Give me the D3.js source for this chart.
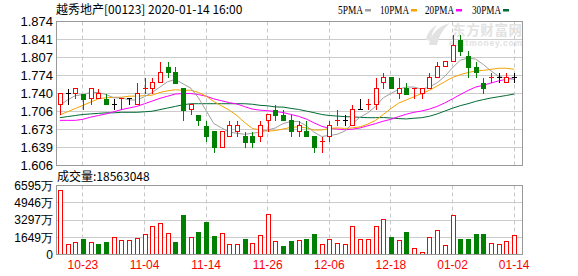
<!DOCTYPE html>
<html lang="zh">
<head>
<meta charset="utf-8">
<title>越秀地产 K线</title>
<script src="https://d3js.org/d3.v7.min.js"></script>
<style>
body { margin: 0; background: #fff; }
svg { display: block; font-family: "Noto Sans CJK SC", sans-serif; }
</style>
</head>
<body>
<svg id="kline" width="578" height="276"></svg>
<script>
// ---- data ----
let dates = ['10-18','10-21','10-22','10-23','10-24','10-25','10-28','10-29','10-30','10-31',
             '11-01','11-04','11-05','11-06','11-07','11-08','11-11','11-12','11-13','11-14',
             '11-15','11-18','11-19','11-20','11-21','11-22','11-25','11-26','11-27','11-28',
             '11-29','12-02','12-03','12-04','12-05','12-06','12-09','12-10','12-11','12-12',
             '12-13','12-16','12-17','12-18','12-19','12-20','12-23','12-24','12-27','12-30',
             '12-31','01-02','01-03','01-06','01-07','01-08','01-09','01-10','01-13','01-14'];
let open  = [1.72,1.74,1.74,1.74,1.73,1.73,1.73,1.72,1.73,1.73, 1.72,1.75,1.75,1.76,1.79,1.78,1.75,1.71,1.70,1.68,
             1.67,1.64,1.66,1.67,1.66,1.66,1.66,1.69,1.71,1.70, 1.69,1.67,1.67,1.66,1.65,1.66,1.69,1.69,1.68,1.71,
             1.72,1.72,1.76,1.77,1.74,1.75,1.75,1.74,1.75,1.77, 1.79,1.80,1.84,1.81,1.79,1.76,1.77,1.77,1.76,1.77];
let close = [1.74,1.74,1.75,1.73,1.75,1.74,1.72,1.72,1.73,1.73, 1.74,1.75,1.76,1.78,1.78,1.76,1.71,1.72,1.69,1.66,
             1.64,1.67,1.68,1.68,1.65,1.65,1.68,1.70,1.70,1.69, 1.67,1.68,1.66,1.64,1.65,1.68,1.69,1.69,1.71,1.71,
             1.72,1.75,1.77,1.75,1.75,1.74,1.75,1.75,1.77,1.79, 1.80,1.83,1.82,1.79,1.78,1.75,1.77,1.77,1.77,1.77];
let high  = [1.74,1.75,1.75,1.74,1.75,1.75,1.74,1.73,1.73,1.73, 1.76,1.77,1.77,1.80,1.80,1.79,1.75,1.72,1.70,1.69,
             1.67,1.67,1.69,1.69,1.67,1.67,1.69,1.70,1.72,1.71, 1.70,1.69,1.69,1.66,1.66,1.69,1.71,1.70,1.72,1.73,
             1.73,1.77,1.78,1.77,1.77,1.76,1.75,1.75,1.78,1.80, 1.80,1.85,1.85,1.82,1.80,1.77,1.78,1.78,1.78,1.78];
let low   = [1.70,1.72,1.73,1.71,1.72,1.73,1.72,1.71,1.71,1.72, 1.72,1.74,1.74,1.76,1.77,1.76,1.69,1.70,1.68,1.65,
             1.63,1.64,1.66,1.66,1.64,1.64,1.65,1.67,1.69,1.69, 1.66,1.66,1.66,1.63,1.63,1.65,1.68,1.68,1.68,1.71,
             1.71,1.71,1.75,1.75,1.73,1.74,1.73,1.73,1.75,1.77, 1.79,1.80,1.81,1.77,1.77,1.74,1.76,1.76,1.76,1.76];
// volume in 万 shares
let volume = [6117,924,1115,1434,1115,1051,1147,1593,1306,1306, 1497,1880,2644,2963,1975,1147,3823,1593,2103,3154,
              1816,1975,924,924,1529,1020,1784,3791,1211,765, 1243,1338,1529,1912,956,1434,1051,956,2644,1402,
              1402,2644,3313,1625,1338,2103,542,191,1593,2262, 860,3696,1529,1529,2007,2007,1051,956,1243,1856.3048];
let ma5Head  = [1.718,1.728,1.736,1.738];
let ma10Head = [1.700,1.706,1.712,1.718,1.724,1.730,1.732,1.733,1.733];
let ma20Head = [1.690,1.690,1.690,1.692,1.696,1.699,1.702,1.706,1.710,1.713,1.716,1.721,1.726,1.731,1.735,1.739,1.740,1.740,1.738];
let ma30Head = [1.695,1.697,1.699,1.701,1.702,1.703,1.704,1.704,1.705,1.705,1.705,1.706,1.707,1.710,1.713,1.716,1.719,1.721,
                1.721,1.721,1.721,1.721,1.721,1.721,1.721,1.720,1.718,1.717,1.715];
let priceLabels = ['1.606','1.639','1.673','1.706','1.740','1.774','1.807','1.841','1.874'];
let volLabels = ['0','1649万','3297万','4946万','6595万'];
let labelIdx = [3,11,19,27,35,43,51,59];

let RED = '#ff0000', GREEN = '#008000', BLACK = '#000000';

let svg = d3.select('#kline');
let left = 56, right = 522;
let n = dates.length;
let crisp = v => Math.round(v - 0.5) + 0.5;

let x = d3.scaleBand().domain(d3.range(n)).range([left, left + n * 7.7]);
let cx = i => x(i) + x.bandwidth() / 2;
let yP = d3.scaleLinear().domain([1.606, 1.874]).range([165.5, 21.5]);
let yV = d3.scaleLinear().domain([0, 6595]).range([254.5, 185.5]);

function ma(period, head){
    return d3.range(n).map(i => {
        if(i < period - 1) return head[i];
        return d3.mean(close.slice(i - period + 1, i + 1));
    });
}
let maSeries = [
    {name: '5PMA',  color: '#a0a0a0', values: ma(5, ma5Head)},
    {name: '10PMA', color: '#f5a300', values: ma(10, ma10Head)},
    {name: '20PMA', color: '#ff00ff', values: ma(20, ma20Head)},
    {name: '30PMA', color: '#006b35', values: ma(30, ma30Head)}
];

function candleColor(i){
    if(close[i] > open[i]) return RED;
    if(close[i] < open[i]) return GREEN;
    if(i === 0 || close[i] === close[i-1]) return BLACK;
    return close[i] > close[i-1] ? RED : GREEN;
}
let volUp = i => i === 0 || close[i] >= close[i-1];

// ---- title & legend ----
svg.append('text').attr('x', 56).attr('y', 13.5).attr('font-size', 12)
    .text('越秀地产[00123] 2020-01-14 16:00');

let legendX = [338, 380, 425, 472];
let legend = svg.append('g');
maSeries.forEach((s, k) => {
    let w = s.name.length === 4 ? 25 : 29;
    legend.append('text').attr('x', legendX[k]).attr('y', 13.5)
        .attr('font-size', 12).attr('font-family', 'Liberation Serif, serif')
        .attr('textLength', w).attr('lengthAdjust', 'spacingAndGlyphs')
        .text(s.name);
    legend.append('rect').attr('x', legendX[k] + w + 2).attr('y', 9)
        .attr('width', 6).attr('height', 2.5).attr('fill', s.color);
});

// ---- panels (grid) ----
function panel(y, ticks, top, bottom){
    let g = svg.append('g');
    g.selectAll('line.h').data(ticks).join('line')
        .attr('x1', left).attr('x2', right)
        .attr('y1', d => crisp(y(d))).attr('y2', d => crisp(y(d)))
        .attr('stroke', '#cccccc');
    g.selectAll('line.v').data(labelIdx).join('line')
        .attr('x1', d => crisp(cx(d))).attr('x2', d => crisp(cx(d)))
        .attr('y1', top).attr('y2', bottom)
        .attr('stroke', '#c8c8c8').attr('stroke-dasharray', '4,3');
    return g;
}
let priceTicks = d3.range(9).map(k => 1.606 + k * (1.874 - 1.606) / 8);
let volTicks = d3.range(5).map(k => k * 6595 / 4);
panel(yP, priceTicks, 21.5, 165.5);
panel(yV, volTicks, 185.5, 254.5);

// watermark
let wm = svg.append('g').attr('fill', '#e2e2e2');
wm.append('path').attr('d', 'M429,45 C430,35 438,26 450,23 C444,28 439,35 437,45 Z');
wm.append('path').attr('d', 'M426,40 C427,33 431,28 437,25 C433,30 431,35 431,41 Z');
wm.append('text').attr('x', 452).attr('y', 35).attr('font-size', 13.5).attr('font-weight', 'bold')
    .attr('textLength', 70).text('东方财富网');
wm.append('text').attr('x', 449).attr('y', 46).attr('font-size', 8.5).attr('font-weight', 'bold')
    .attr('font-family', 'Liberation Sans, Arial, sans-serif')
    .attr('textLength', 73).text('eastmoney.com');

// ---- axes ----
let axisFont = 'Liberation Sans, Arial, sans-serif';
let pAxis = svg.append('g').attr('transform', `translate(${left},0)`)
    .call(d3.axisLeft(yP).tickValues(priceTicks).tickSize(0).tickPadding(3)
        .tickFormat((d, i) => priceLabels[i]));
pAxis.select('.domain').remove();
pAxis.selectAll('text').attr('font-size', 13).attr('font-family', axisFont).attr('fill', '#000');

let vAxis = svg.append('g').attr('transform', `translate(${left},0)`)
    .call(d3.axisLeft(yV).tickValues(volTicks).tickSize(0).tickPadding(3)
        .tickFormat((d, i) => volLabels[i]));
vAxis.select('.domain').remove();
vAxis.selectAll('text').attr('font-size', 12).attr('font-family', axisFont).attr('fill', '#000');

let xAxis = svg.append('g').attr('transform', 'translate(0,254.5)')
    .call(d3.axisBottom(x).tickValues(labelIdx).tickSize(0).tickPadding(6)
        .tickFormat(i => dates[i]));
xAxis.select('.domain').remove();
xAxis.selectAll('text').attr('font-size', 12).attr('font-family', axisFont).attr('fill', RED);

// ---- MA lines ----
let lineGen = d3.line().x((d, i) => cx(i)).y(d => yP(d));
svg.append('g').selectAll('path').data(maSeries.slice().reverse()).join('path')
    .attr('d', d => lineGen(d.values))
    .attr('fill', 'none').attr('stroke', d => d.color).attr('stroke-width', 1);

// ---- candles ----
let candles = svg.append('g').selectAll('g').data(d3.range(n)).join('g')
    .attr('shape-rendering', 'crispEdges');
candles.append('line')
    .attr('x1', i => Math.round(cx(i)) + 0.5).attr('x2', i => Math.round(cx(i)) + 0.5)
    .attr('y1', i => crisp(yP(high[i]))).attr('y2', i => crisp(yP(low[i])))
    .attr('stroke', candleColor);
candles.filter(i => close[i] > open[i]).append('rect')
    .attr('x', i => Math.round(cx(i)) - 1.5).attr('width', 4)
    .attr('y', i => crisp(yP(close[i])))
    .attr('height', i => crisp(yP(open[i])) - crisp(yP(close[i])))
    .attr('fill', '#fff').attr('stroke', RED);
candles.filter(i => close[i] < open[i]).append('rect')
    .attr('x', i => Math.round(cx(i)) - 2).attr('width', 5)
    .attr('y', i => Math.round(yP(open[i])))
    .attr('height', i => Math.max(1, Math.round(yP(close[i])) - Math.round(yP(open[i])) + 1))
    .attr('fill', GREEN);
candles.filter(i => close[i] === open[i]).append('line')
    .attr('x1', i => Math.round(cx(i)) - 2).attr('x2', i => Math.round(cx(i)) + 3)
    .attr('y1', i => crisp(yP(open[i]))).attr('y2', i => crisp(yP(open[i])))
    .attr('stroke', candleColor);

// ---- volume ----
let vols = svg.append('g').attr('shape-rendering', 'crispEdges');
vols.selectAll('rect.up').data(d3.range(n).filter(volUp)).join('rect')
    .attr('x', i => Math.round(cx(i)) - 1.5).attr('width', 4)
    .attr('y', i => crisp(yV(volume[i])))
    .attr('height', i => 254.5 - crisp(yV(volume[i])))
    .attr('fill', '#fff').attr('stroke', RED);
vols.selectAll('rect.down').data(d3.range(n).filter(i => !volUp(i))).join('rect')
    .attr('x', i => Math.round(cx(i)) - 2).attr('width', 5)
    .attr('y', i => Math.round(yV(volume[i])))
    .attr('height', i => 255 - Math.round(yV(volume[i])))
    .attr('fill', GREEN);

// borders on top
svg.append('rect').attr('x', 56.5).attr('y', 21.5).attr('width', right - 56).attr('height', 144)
    .attr('fill', 'none').attr('stroke', '#999');
svg.append('rect').attr('x', 56.5).attr('y', 185.5).attr('width', right - 56).attr('height', 69)
    .attr('fill', 'none').attr('stroke', '#999');

svg.append('text').attr('x', 57).attr('y', 181).attr('font-size', 12)
    .text('成交量:' + Math.round(volume[n - 1] * 10000));
</script>
</body>
</html>
